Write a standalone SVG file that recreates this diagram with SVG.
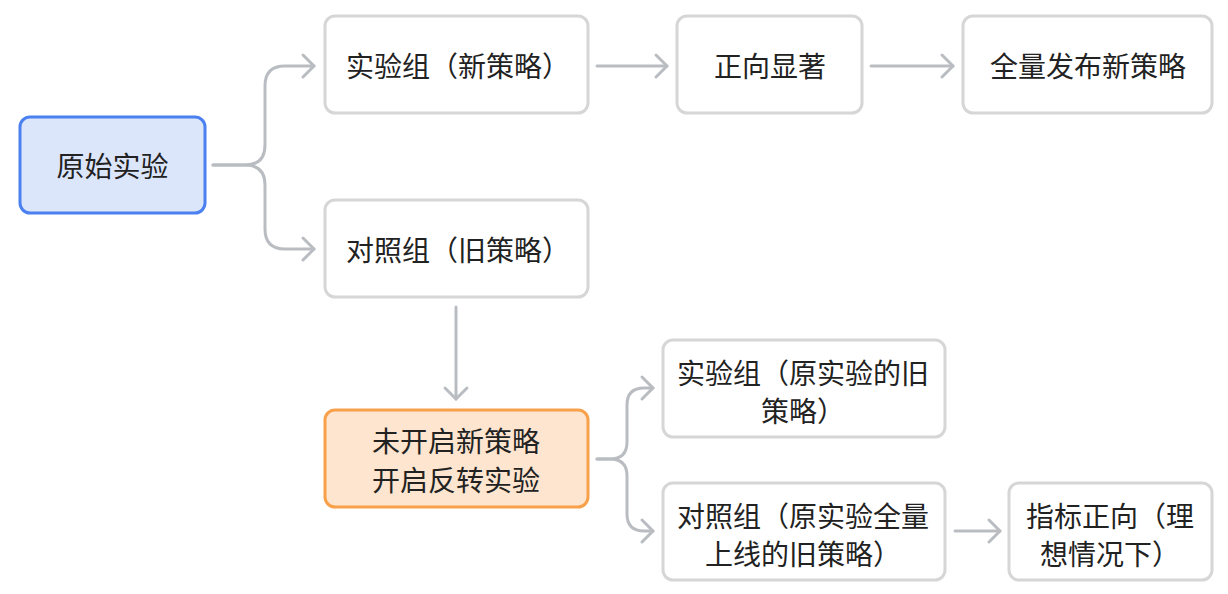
<svg xmlns="http://www.w3.org/2000/svg" width="1228" height="594" viewBox="0 0 1228 594">
<style>
.box{fill:#ffffff;stroke:#d6d6d6;stroke-width:3}
.t{font-family:"Noto Sans CJK SC","Noto Sans",sans-serif;font-size:28px;fill:#222222;text-anchor:middle;dominant-baseline:central}
.c{fill:none;stroke:#b9bdc2;stroke-width:3;stroke-linecap:round;stroke-linejoin:round}
</style>
<defs>
<marker id="ah" markerUnits="userSpaceOnUse" viewBox="-14 -14 17 28" markerWidth="17" markerHeight="28" refX="0" refY="0" orient="auto">
<path d="M-11,-11 L0,0 L-11,11" fill="none" stroke="#b9bdc2" stroke-width="3" stroke-linecap="round" stroke-linejoin="round"/>
</marker>
</defs>
<rect width="1228" height="594" fill="#ffffff"/>
<g id="connectors">
<path class="c" d="M213,165 H245 Q265,165 265,145 V86 Q265,66 285,66 H314" marker-end="url(#ah)"/>
<path class="c" d="M213,165 H245 Q265,165 265,185 V229 Q265,249 285,249 H314" marker-end="url(#ah)"/>
<path class="c" d="M597,66 H667" marker-end="url(#ah)"/>
<path class="c" d="M871,66 H953" marker-end="url(#ah)"/>
<path class="c" d="M456,307 V399" marker-end="url(#ah)"/>
<path class="c" d="M597,459 H610 Q627,459 627,442 V405 Q627,388 644,388 H653" marker-end="url(#ah)"/>
<path class="c" d="M597,459 H610 Q627,459 627,476 V514 Q627,531 644,531 H653" marker-end="url(#ah)"/>
<path class="c" d="M955,531 H1000" marker-end="url(#ah)"/>
</g>
<g id="n-origin">
<rect x="20" y="117" width="185" height="96" rx="10" fill="#dce6fb" stroke="#4a80ef" stroke-width="3"/>
<text class="t" x="112.5" y="165">原始实验</text>
</g>
<g id="n-exp-new">
<rect class="box" x="325" y="16" width="263" height="97" rx="10"/>
<text class="t" x="458" y="65">实验组（新策略）</text>
</g>
<g id="n-positive">
<rect class="box" x="677" y="16" width="185" height="97" rx="10"/>
<text class="t" x="770" y="65">正向显著</text>
</g>
<g id="n-release">
<rect class="box" x="963" y="16" width="249" height="97" rx="10"/>
<text class="t" x="1088" y="65">全量发布新策略</text>
</g>
<g id="n-ctrl-old">
<rect class="box" x="325" y="200" width="263" height="97" rx="10"/>
<text class="t" x="458" y="249">对照组（旧策略）</text>
</g>
<g id="n-reverse">
<rect x="325" y="410" width="263" height="97" rx="10" fill="#fde5cf" stroke="#f8a14a" stroke-width="3"/>
<text class="t" x="456" y="440">未开启新策略</text>
<text class="t" x="456" y="479">开启反转实验</text>
</g>
<g id="n-exp-rev">
<rect class="box" x="663" y="340" width="282" height="97" rx="10"/>
<text class="t" x="803" y="372">实验组（原实验的旧</text>
<text class="t" x="803" y="410">策略）</text>
</g>
<g id="n-ctrl-rev">
<rect class="box" x="663" y="483" width="282" height="97" rx="10"/>
<text class="t" x="803" y="515">对照组（原实验全量</text>
<text class="t" x="803" y="553">上线的旧策略）</text>
</g>
<g id="n-metric">
<rect class="box" x="1009" y="483" width="203" height="97" rx="10"/>
<text class="t" x="1110" y="515">指标正向（理</text>
<text class="t" x="1110" y="553">想情况下）</text>
</g>
</svg>
